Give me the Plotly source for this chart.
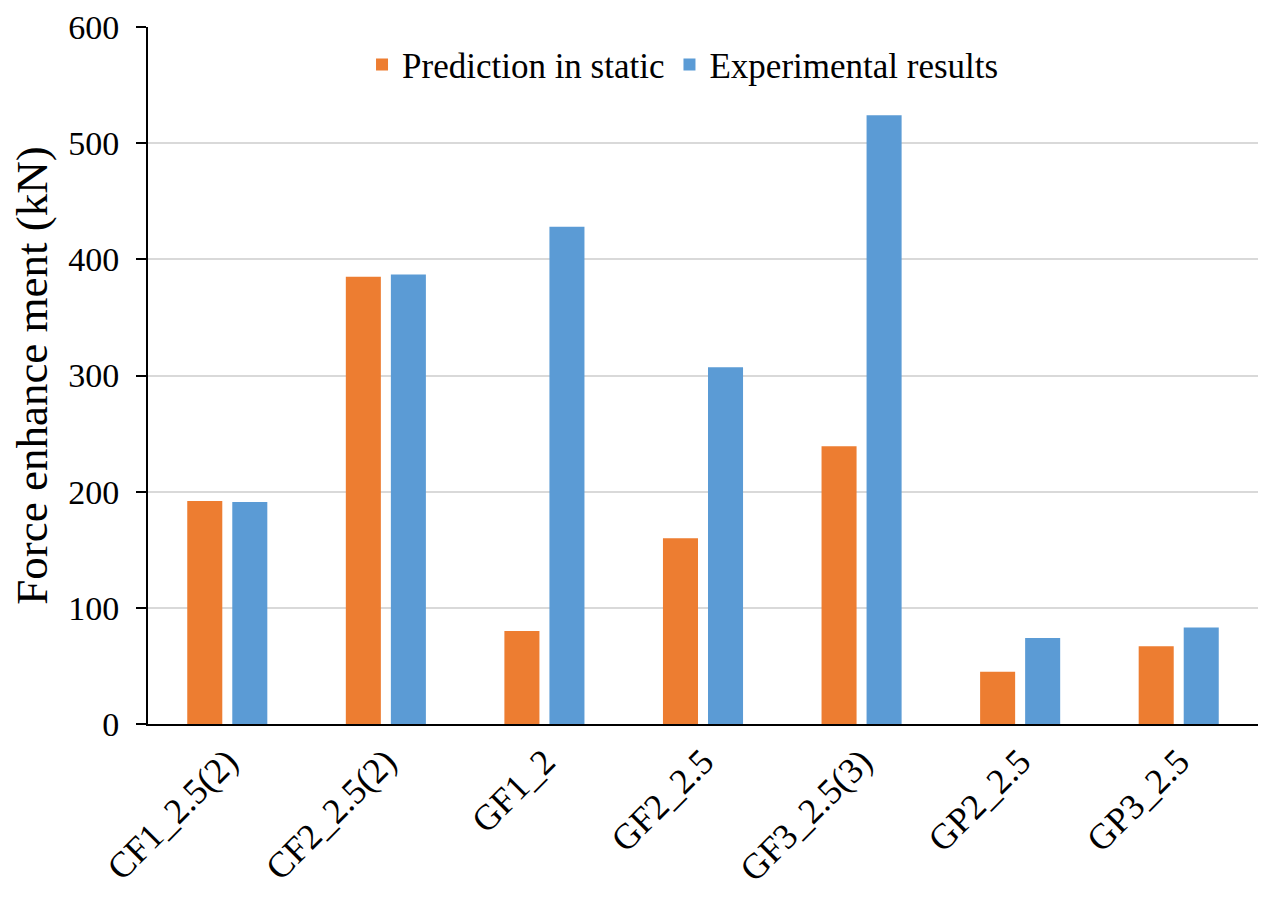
import plotly.graph_objects as go

categories = ["CF1_2.5(2)", "CF2_2.5(2)", "GF1_2", "GF2_2.5", "GF3_2.5(3)", "GP2_2.5", "GP3_2.5"]
prediction_static = [192, 385, 80, 160, 239, 45, 67]
experimental = [191, 387, 428, 307, 524, 74, 83]

FONT = "Liberation Serif, Times New Roman, serif"

fig = go.Figure()
fig.add_trace(go.Bar(x=categories, y=prediction_static, name="Prediction in static",
                     marker=dict(color="#ED7D31", line=dict(width=0))))
fig.add_trace(go.Bar(x=categories, y=experimental, name="Experimental results",
                     marker=dict(color="#5B9BD5", line=dict(width=0))))

fig.update_layout(
    width=1263, height=900,
    margin=dict(l=148, r=5, t=27, b=176),
    plot_bgcolor="white", paper_bgcolor="white",
    barmode="group", bargap=0.432, bargroupgap=0.222,
    font=dict(family=FONT, size=34, color="black"),
    showlegend=True,
    legend=dict(orientation="h", x=0.482, xanchor="center", y=0.988, yanchor="top",
                font=dict(family=FONT, size=35), bgcolor="rgba(0,0,0,0)",
                itemwidth=30, traceorder="normal"),
)
fig.update_yaxes(
    range=[0, 600], dtick=100, showgrid=True, gridcolor="#d9d9d9", gridwidth=2,
    showline=True, linecolor="black", linewidth=2, ticks="outside", ticklen=10,
    tickcolor="black", tickwidth=2, zeroline=False, ticklabelstandoff=10,
    tickfont=dict(family=FONT, size=34),
    title=dict(text="Force enhance ment (kN)", font=dict(family=FONT, size=45), standoff=6),
)
fig.update_xaxes(
    showline=True, linecolor="black", linewidth=2, ticks="", tickangle=-45,
    tickfont=dict(family=FONT, size=36),
)

fig.write_html("out.html")
